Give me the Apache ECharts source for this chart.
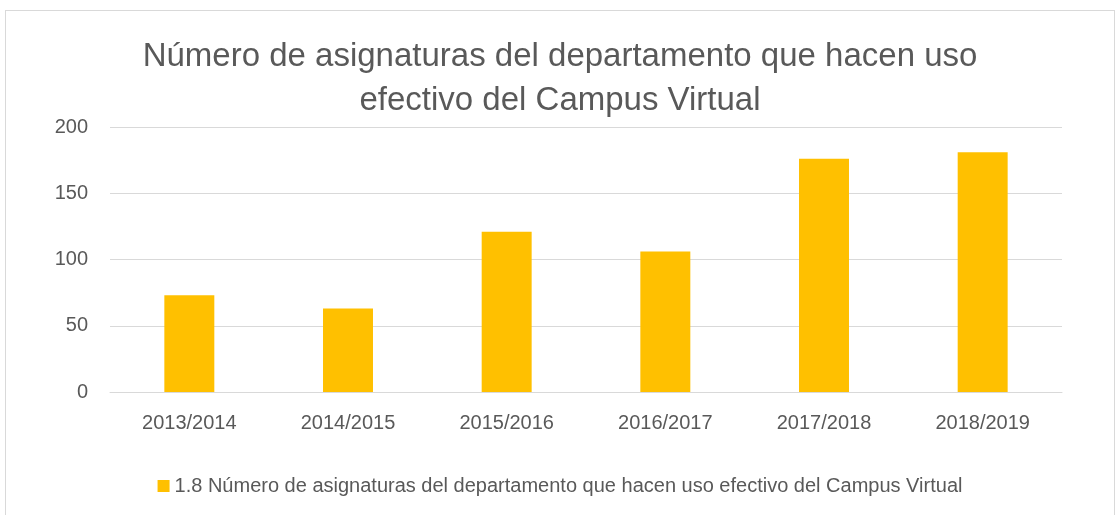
<!DOCTYPE html>
<html>
<head>
<meta charset="utf-8">
<script src="https://cdn.jsdelivr.net/npm/echarts@6/dist/echarts.min.js"></script>
<style>
  html, body { margin: 0; padding: 0; background: #fff; }
  #frame { position: absolute; left: 5px; top: 10px; width: 1110px; height: 520px; border: 1px solid #d9d9d9; box-sizing: border-box; }
  #chart { position: absolute; left: 0; top: 0; width: 1120px; height: 515px; }
</style>
</head>
<body>
<div id="frame"></div>
<div id="chart"></div>
<script>
// datos
var cursos = ['2013/2014', '2014/2015', '2015/2016', '2016/2017', '2017/2018', '2018/2019'];
var asignaturas = [73, 63, 121, 106, 176, 181];
var serieNombre = '1.8 Número de asignaturas del departamento que hacen uso efectivo del Campus Virtual';
var tituloTexto = 'Número de asignaturas del departamento que hacen uso\nefectivo del Campus Virtual';

var myChart = echarts.init(document.getElementById('chart'));
var fuente = 'Liberation Sans';
var option = {
  animation: false,
  title: {
    text: tituloTexto,
    left: 'center',
    top: 30,
    textStyle: {
      fontFamily: fuente,
      fontSize: 33,
      fontWeight: 'normal',
      color: '#595959',
      lineHeight: 44
    }
  },
  legend: {
    bottom: 14,
    left: 'center',
    itemWidth: 12,
    itemHeight: 12,
    itemGap: 4,
    icon: 'rect',
    textStyle: { fontFamily: fuente, fontSize: 20, color: '#595959' },
    data: [serieNombre]
  },
  grid: {
    left: 110,
    right: 58,
    top: 127,
    bottom: 123
  },
  xAxis: {
    type: 'category',
    data: cursos,
    axisLine: { lineStyle: { color: '#d9d9d9', width: 1 } },
    axisTick: { show: false },
    axisLabel: { fontFamily: fuente, fontSize: 20, color: '#595959', margin: 21 }
  },
  yAxis: {
    type: 'value',
    min: 0,
    max: 200,
    interval: 50,
    axisLine: { show: false },
    axisTick: { show: false },
    splitLine: { lineStyle: { color: '#d9d9d9', width: 1 } },
    axisLabel: { fontFamily: fuente, fontSize: 20, color: '#595959', margin: 22 }
  },
  series: [
    {
      name: serieNombre,
      type: 'bar',
      data: asignaturas,
      barWidth: '31.5%',
      itemStyle: { color: '#FFC000' }
    }
  ]
};
myChart.setOption(option);
</script>
</body>
</html>
